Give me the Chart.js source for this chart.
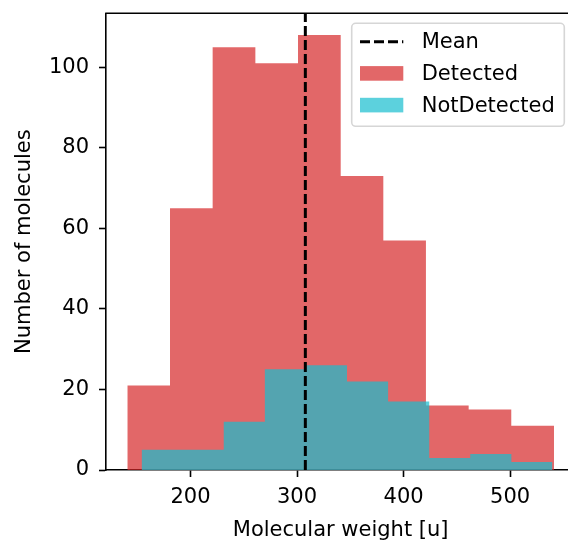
<!DOCTYPE html>
<html>
<head>
<meta charset="utf-8">
<script src="https://cdn.jsdelivr.net/npm/chart.js@4/dist/chart.umd.min.js"></script>
<style>
  html, body { margin: 0; padding: 0; background: #fff; overflow: hidden; }
  #wrap { width: 580px; height: 544px; }
</style>
</head>
<body>
<div id="wrap"><canvas id="hist" width="580" height="544"></canvas></div>
<script>
// histogram bin edges (molecular weight) and counts per bin
var detectedEdges = [140.7, 180.8, 220.8, 260.9, 300.9, 341.0, 381.0, 421.0, 461.1, 501.1, 541.2];
var detectedCounts = [21, 65, 105, 101, 108, 73, 57, 16, 15, 11];
var notDetectedEdges = [154.1, 192.7, 231.2, 269.8, 308.4, 346.9, 385.5, 424.1, 462.6, 501.2, 539.7];
var notDetectedCounts = [5, 5, 12, 25, 26, 22, 17, 3, 4, 2];
var meanWeight = 307.8;

var xTicks = [200, 300, 400, 500];
var yTicks = [0, 20, 40, 60, 80, 100];
var xRange = [120.7, 561.2];
var yRange = [0, 113.4];

var RED = 'rgba(214, 39, 40, 0.7)';
var CYAN = 'rgba(23, 190, 207, 0.7)';

Chart.defaults.font.family = '"DejaVu Sans", sans-serif';
Chart.defaults.font.size = 21;
Chart.defaults.color = '#000';

// step points: each count is held from its left edge to the next edge
function stepPoints(edges, counts) {
    var pts = [];
    for (var i = 0; i < counts.length; i++) {
        pts.push({x: edges[i], y: counts[i]});
    }
    pts.push({x: edges[edges.length - 1], y: counts[counts.length - 1]});
    return pts;
}

var topSpine = {
    id: 'topSpine',
    afterDraw: function(chart) {
        var ctx = chart.ctx, a = chart.chartArea;
        ctx.save();
        ctx.strokeStyle = '#000';
        ctx.lineWidth = 1.6;
        ctx.beginPath();
        ctx.moveTo(a.left - 0.8, a.top);
        ctx.lineTo(a.right, a.top);
        ctx.stroke();
        ctx.restore();
    }
};

// matplotlib-like legend in the upper right corner of the axes
var boxLegend = {
    id: 'boxLegend',
    afterDraw: function(chart) {
        var ctx = chart.ctx, a = chart.chartArea;
        var items = chart.data.datasets.slice().sort(function(p, q) { return p.legendIndex - q.legendIndex; });
        var right = a.right - 11, top = a.top + 10;
        var w = 212.6, h = 103, rowH = 31.7;
        var left = right - w;
        ctx.save();
        ctx.beginPath();
        ctx.roundRect(left, top, w, h, 4);
        ctx.fillStyle = 'rgba(255,255,255,0.8)';
        ctx.fill();
        ctx.strokeStyle = '#d6d6d6';
        ctx.lineWidth = 1.6;
        ctx.stroke();
        ctx.font = '21px "DejaVu Sans"';
        ctx.textBaseline = 'middle';
        ctx.fillStyle = '#000';
        items.forEach(function(ds, i) {
            var cy = top + 18.4 + i * rowH;
            var hx = left + 8.3;
            if (ds.isMean) {
                ctx.save();
                ctx.strokeStyle = '#000';
                ctx.lineWidth = ds.borderWidth;
                ctx.setLineDash(ds.borderDash);
                ctx.beginPath();
                ctx.moveTo(hx, cy);
                ctx.lineTo(hx + 43.3, cy);
                ctx.stroke();
                ctx.restore();
            } else {
                ctx.fillStyle = ds.backgroundColor;
                ctx.fillRect(hx, cy - 7.3, 43.3, 14.6);
            }
            ctx.fillStyle = '#000';
            ctx.fillText(ds.label, left + 70, cy + 1);
        });
        ctx.restore();
    }
};

var chart = new Chart(document.getElementById('hist'), {
    type: 'line',
    data: {
        datasets: [{
            label: 'Mean',
            isMean: true,
            legendIndex: 0,
            order: 0,
            data: [{x: meanWeight, y: yRange[0]}, {x: meanWeight, y: yRange[1]}],
            borderColor: '#000',
            borderWidth: 3,
            borderDash: [10, 4],
            pointRadius: 0,
            fill: false
        }, {
            label: 'NotDetected',
            legendIndex: 2,
            order: 1,
            data: stepPoints(notDetectedEdges, notDetectedCounts),
            stepped: true,
            backgroundColor: CYAN,
            borderWidth: 0,
            pointRadius: 0,
            fill: 'origin'
        }, {
            label: 'Detected',
            legendIndex: 1,
            order: 2,
            data: stepPoints(detectedEdges, detectedCounts),
            stepped: true,
            backgroundColor: RED,
            borderWidth: 0,
            pointRadius: 0,
            fill: 'origin'
        }]
    },
    options: {
        responsive: false,
        animation: false,
        layout: {padding: {left: 12, top: 13.3, right: 4.7, bottom: 0}},
        plugins: {legend: {display: false}, tooltip: {enabled: false}},
        scales: {
            x: {
                type: 'linear',
                min: xRange[0],
                max: xRange[1],
                afterBuildTicks: function(s) { s.ticks = xTicks.map(function(v) { return {value: v}; }); },
                afterFit: function(s) { s.height = 74; s.paddingLeft = 0; s.paddingRight = 0; },
                grid: {drawOnChartArea: false, drawTicks: true, tickLength: 7, tickColor: '#000', tickWidth: 1.6},
                border: {display: true, color: '#000', width: 1.6},
                ticks: {padding: 8, maxRotation: 0, font: {size: 21}},
                title: {display: true, text: 'Molecular weight [u]', font: {size: 21}, padding: {top: 0, bottom: 1}}
            },
            y: {
                type: 'linear',
                min: yRange[0],
                max: yRange[1],
                afterBuildTicks: function(s) { s.ticks = yTicks.map(function(v) { return {value: v}; }); },
                afterFit: function(s) { s.width = 94; s.paddingTop = 0; s.paddingBottom = 0; },
                grid: {drawOnChartArea: false, drawTicks: true, tickLength: 7, tickColor: '#000', tickWidth: 1.6},
                border: {display: true, color: '#000', width: 1.6},
                ticks: {padding: 10, font: {size: 21}},
                title: {display: true, text: 'Number of molecules', font: {size: 21}, padding: {top: 0, bottom: 0}}
            }
        }
    },
    plugins: [topSpine, boxLegend]
});
</script>
</body>
</html>
